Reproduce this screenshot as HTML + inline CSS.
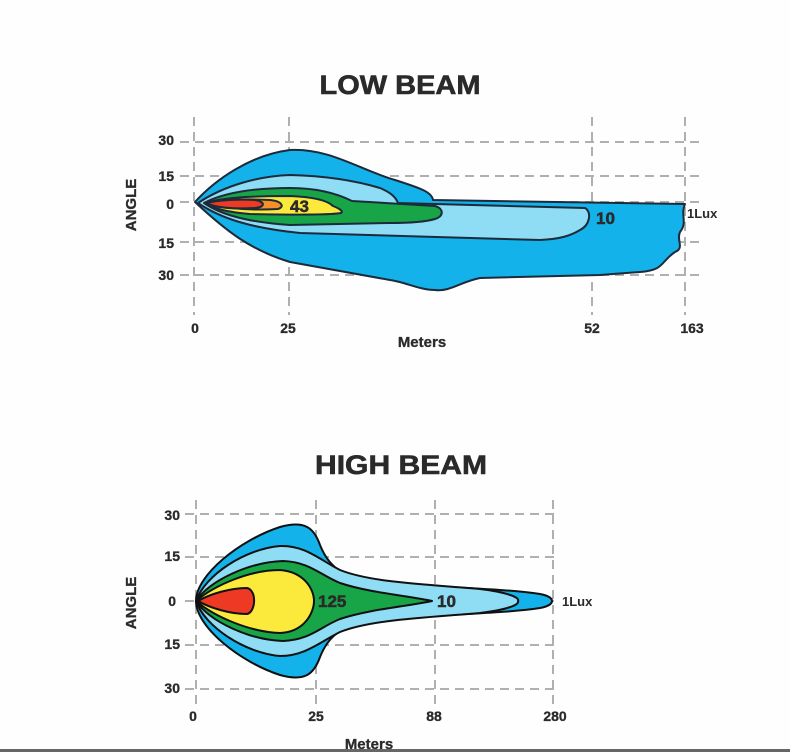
<!DOCTYPE html>
<html><head><meta charset="utf-8"><style>
html,body{margin:0;padding:0;background:#fefefe;}
svg{display:block;}
text{font-family:"Liberation Sans",Arial,sans-serif;font-weight:bold;fill:#2a2a2a;}
</style></head><body>
<svg width="790" height="752" viewBox="0 0 790 752" xmlns="http://www.w3.org/2000/svg">
<rect width="790" height="752" fill="#fefefe"/>
<text x="400" y="94" font-size="27" text-anchor="middle" textLength="161" lengthAdjust="spacingAndGlyphs" stroke="#2a2a2a" stroke-width="0.6">LOW BEAM</text>
<g stroke="#b0b0b0" stroke-width="2" stroke-dasharray="9,6" fill="none">
<line x1="180" y1="142" x2="705" y2="142"/><line x1="180" y1="176" x2="705" y2="176"/>
<line x1="180" y1="202" x2="705" y2="202"/><line x1="180" y1="242" x2="705" y2="242"/>
<line x1="180" y1="275" x2="705" y2="275"/>
<line x1="194" y1="117" x2="194" y2="315"/><line x1="289" y1="117" x2="289" y2="315"/>
<line x1="592" y1="117" x2="592" y2="315"/><line x1="685" y1="117" x2="685" y2="315"/>
</g>
<g stroke="#1d2a3a" stroke-width="2" stroke-linejoin="round">
<path fill="#14b2ea" d="M195,202 C215,180 250,155 290,150 C330,148 360,170 395,180 C420,188 432,192 433,200 L685,204 C680,215 688,222 680,232 C676,240 685,248 675,252 C660,262 665,270 640,272 L600,275 L480,278 C460,282 450,292 435,290 C420,290 405,282 390,280 L290,262 C250,250 225,230 195,202 Z"/>
<path fill="#8fdcf5" d="M198,203 C225,185 260,176 290,175 C330,176 360,182 380,188 C392,193 396,198 398,203 L585,208 C592,212 590,225 580,230 C570,236 560,239 540,240 L300,233 C250,228 220,218 198,203 Z"/>
<path fill="#17a548" d="M204,203 C225,192 255,188 290,188 C320,188 340,195 352,201 L435,206 C445,209 443,217 435,219 C425,222 410,223 390,223 L290,225 C245,222 220,214 204,203 Z"/>
<path fill="#fbea3c" d="M205,203 C225,197 255,196 290,196 C315,197 328,201 333,206 C338,208 344,211 341,213 C330,215 300,215 250,214 C225,212 212,208 205,203 Z"/>
<path fill="#f5902a" d="M207,203 C220,199 250,199 270,200 C282,201 285,207 278,209 C260,210 225,210 207,203 Z"/>
<path fill="#ee3a24" d="M207,203 C218,200 240,199 255,200 C266,202 265,207 255,208 C235,209 215,208 207,203 Z"/>
</g>
<text x="290" y="212" font-size="17" stroke="#2a2a2a" stroke-width="0.5">43</text>
<text x="596" y="224" font-size="17" stroke="#2a2a2a" stroke-width="0.5">10</text>
<text x="687" y="218" font-size="13">1Lux</text>
<g font-size="14" stroke="#2a2a2a" stroke-width="0.3">
<text x="174" y="145" text-anchor="end">30</text><text x="174" y="181" text-anchor="end">15</text>
<text x="174" y="209" text-anchor="end">0</text><text x="174" y="248" text-anchor="end">15</text>
<text x="174" y="280" text-anchor="end">30</text>
<text x="195" y="333" text-anchor="middle">0</text><text x="288" y="333" text-anchor="middle">25</text>
<text x="592" y="333" text-anchor="middle">52</text><text x="692" y="333" text-anchor="middle">163</text>
</g>
<text x="422" y="347" font-size="15" text-anchor="middle" stroke="#2a2a2a" stroke-width="0.3">Meters</text>
<text transform="translate(136,205) rotate(-90)" font-size="15" text-anchor="middle" stroke="#2a2a2a" stroke-width="0.3">ANGLE</text>

<text x="401" y="474" font-size="27" text-anchor="middle" textLength="172" lengthAdjust="spacingAndGlyphs" stroke="#2a2a2a" stroke-width="0.6">HIGH BEAM</text>
<g stroke="#b0b0b0" stroke-width="2" stroke-dasharray="9,6" fill="none">
<line x1="185" y1="514" x2="560" y2="514"/><line x1="185" y1="557" x2="560" y2="557"/>
<line x1="185" y1="601" x2="560" y2="601"/><line x1="185" y1="645" x2="560" y2="645"/>
<line x1="185" y1="689" x2="560" y2="689"/>
<line x1="196" y1="500" x2="196" y2="705"/><line x1="316" y1="500" x2="316" y2="705"/>
<line x1="435" y1="500" x2="435" y2="705"/><line x1="553" y1="500" x2="553" y2="705"/>
</g>
<g stroke="#111" stroke-width="2" stroke-linejoin="round">
<path fill="#14b2ea" d="M196,601 C196,575 240,540 280,527 C305,520 314,528 320,545 C328,565 340,578 380,582 C440,588 500,588 540,594 C556,597 556,605 540,608 C500,614 440,614 380,620 C340,624 328,637 320,657 C314,674 305,682 280,675 C240,662 196,627 196,601 Z"/>
<path fill="#8fdcf5" d="M196,601 C205,575 245,549 280,546 C305,545 320,560 340,570 C370,582 420,584 480,589 C505,592 520,597 518,601 C520,605 505,610 480,613 C420,618 370,620 340,632 C320,642 305,656 280,656 C245,653 205,627 196,601 Z"/>
<path fill="#17a548" d="M196,601 C210,580 250,562 283,561 C310,562 320,575 340,583 C370,593 410,596 432,601 C410,606 370,609 340,619 C320,627 310,640 283,641 C250,640 210,622 196,601 Z"/>
<path fill="#fbea3c" d="M196,601 C215,585 250,570 280,570 C305,572 314,590 314,601 C314,612 305,632 280,633 C250,632 215,617 196,601 Z"/>
<path fill="#ee3a24" d="M198,601 C210,594 230,588 247,588 C257,590 256,612 247,614 C230,614 210,608 198,601 Z"/>
</g>
<text x="318" y="607" font-size="17" stroke="#2a2a2a" stroke-width="0.5">125</text>
<text x="437" y="607" font-size="17" stroke="#2a2a2a" stroke-width="0.5">10</text>
<text x="562" y="606" font-size="13">1Lux</text>
<g font-size="14" stroke="#2a2a2a" stroke-width="0.3">
<text x="180" y="520" text-anchor="end">30</text><text x="180" y="561" text-anchor="end">15</text>
<text x="176" y="606" text-anchor="end">0</text><text x="180" y="649" text-anchor="end">15</text>
<text x="180" y="693" text-anchor="end">30</text>
<text x="193" y="721" text-anchor="middle">0</text><text x="316" y="721" text-anchor="middle">25</text>
<text x="434" y="721" text-anchor="middle">88</text><text x="555" y="721" text-anchor="middle">280</text>
</g>
<text x="369" y="749" font-size="15" text-anchor="middle" stroke="#2a2a2a" stroke-width="0.3">Meters</text>
<text transform="translate(136,603) rotate(-90)" font-size="15" text-anchor="middle" stroke="#2a2a2a" stroke-width="0.3">ANGLE</text>
<rect x="0" y="749" width="790" height="3" fill="#666"/>
</svg>
</body></html>
